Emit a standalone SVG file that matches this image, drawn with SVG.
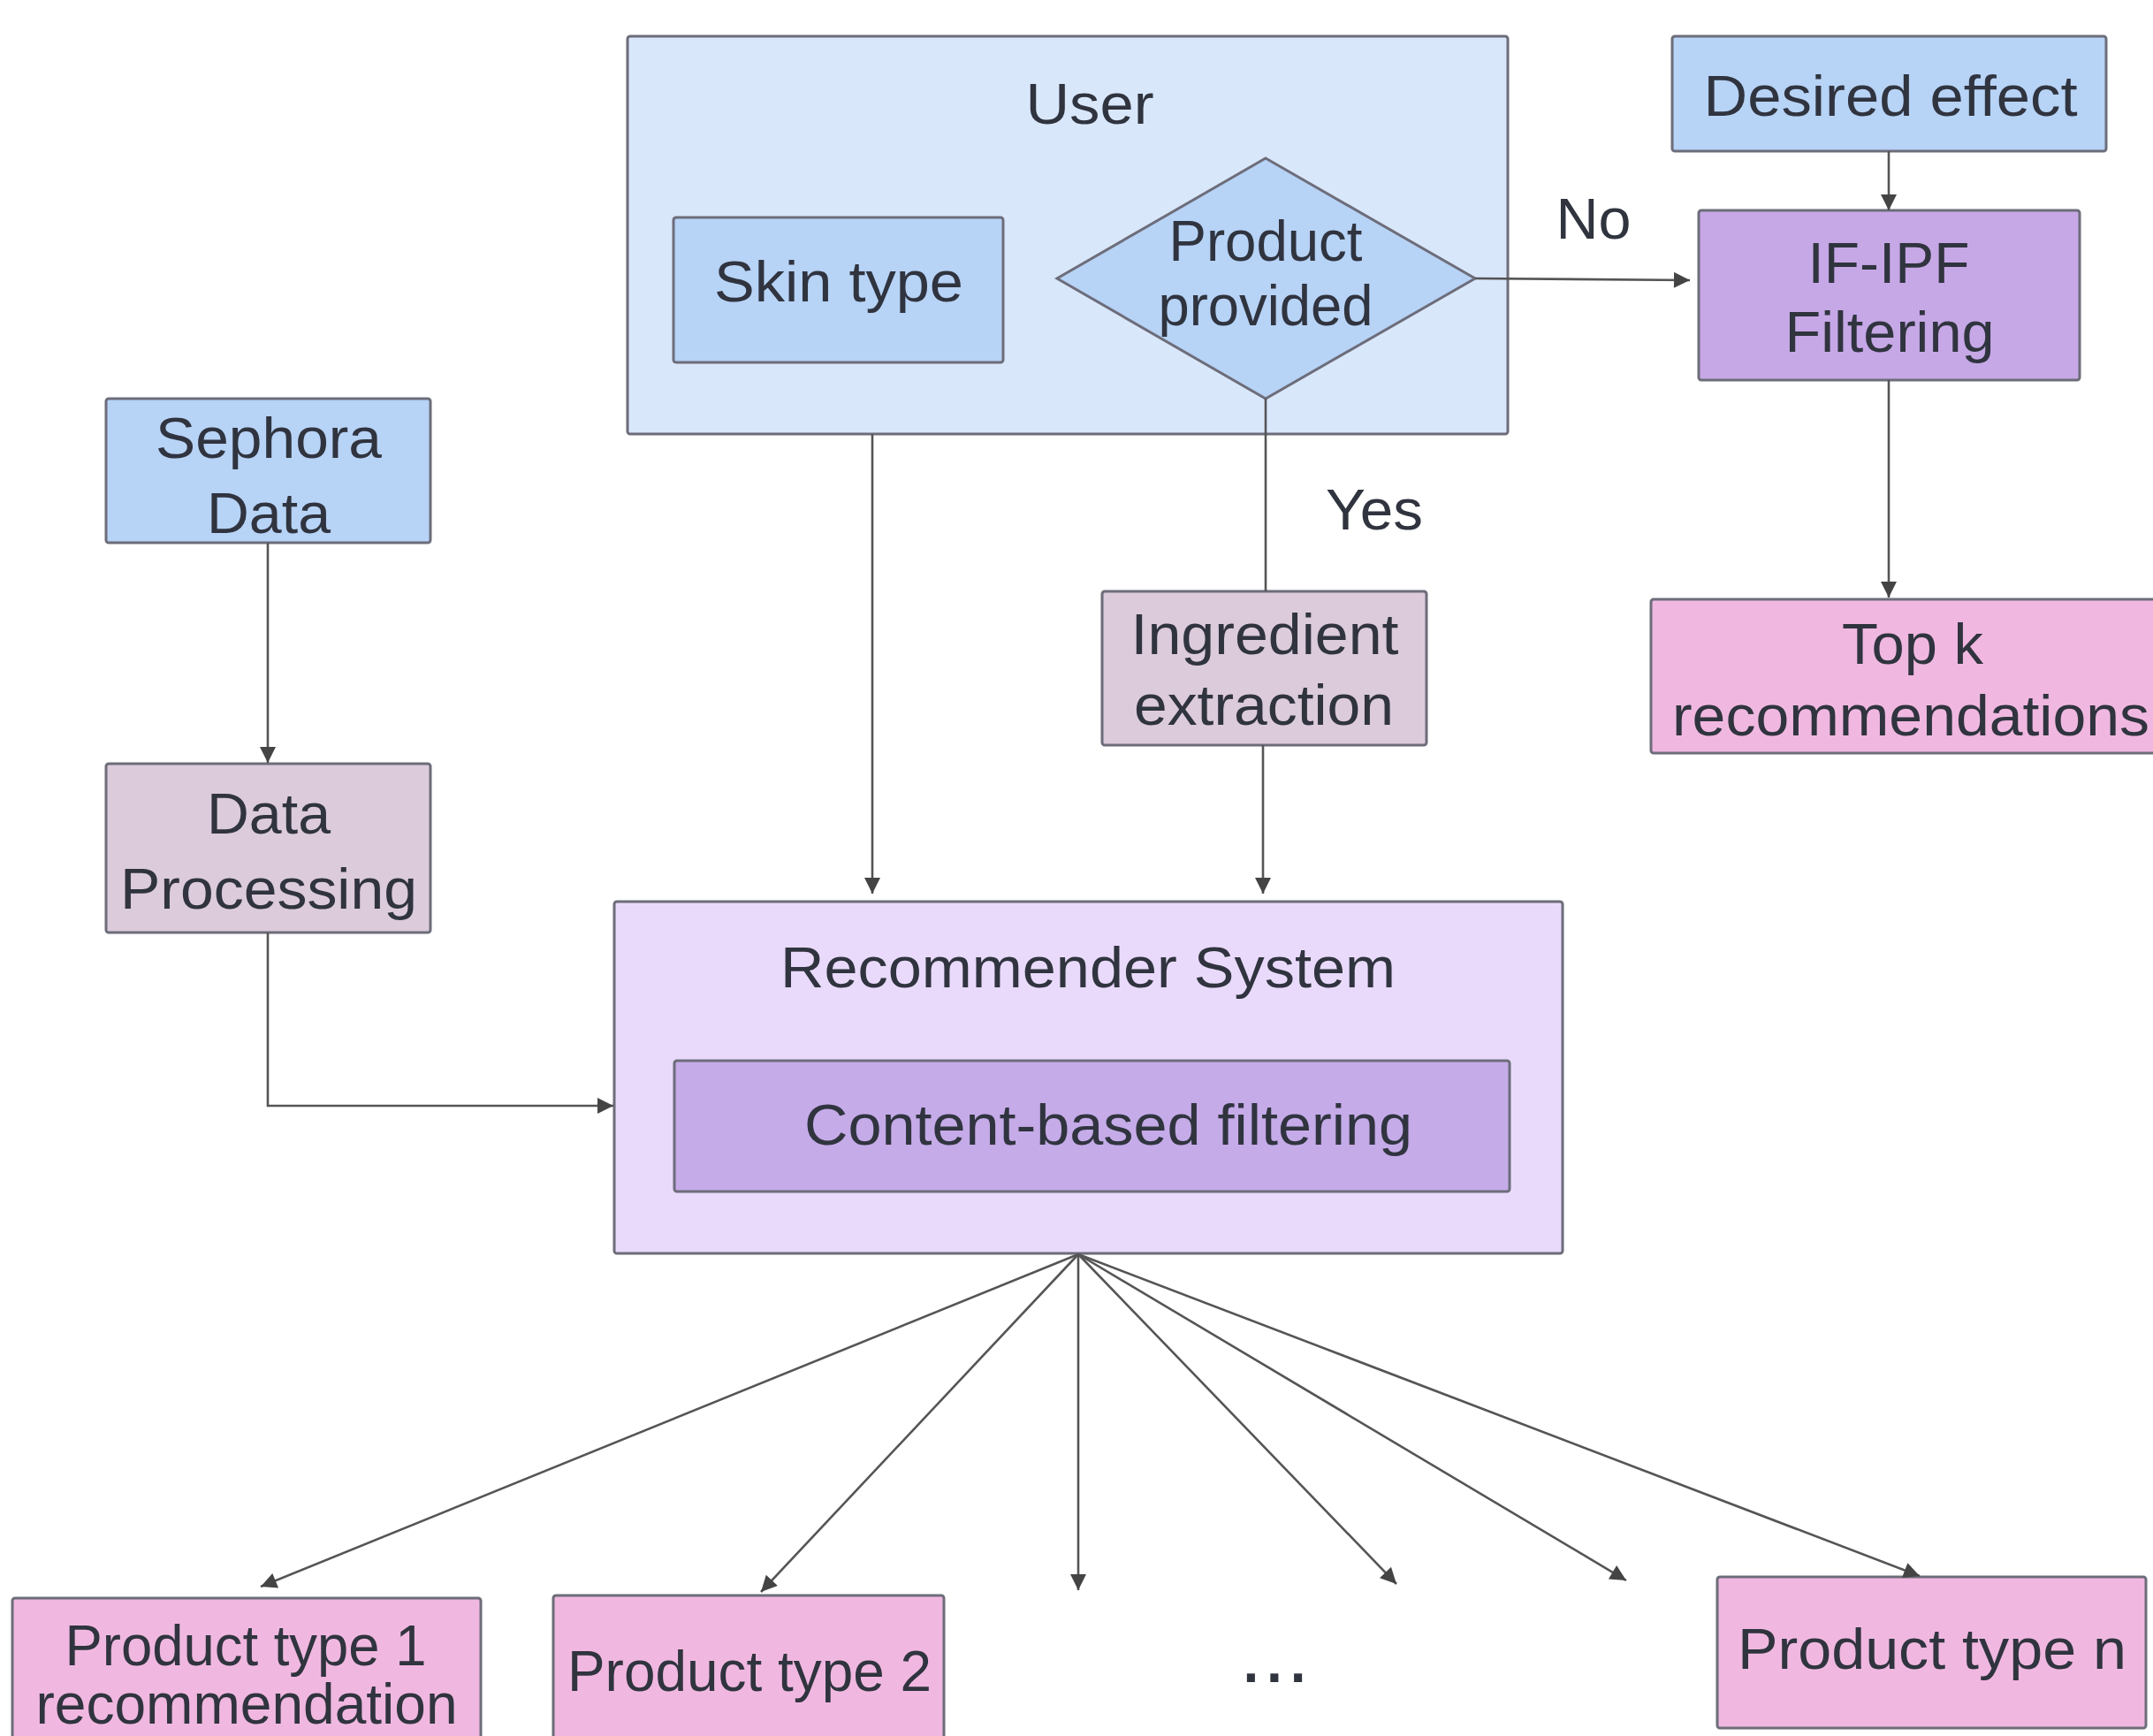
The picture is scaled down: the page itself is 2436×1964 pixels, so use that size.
<svg xmlns="http://www.w3.org/2000/svg" width="2436" height="1964" viewBox="0 0 2436 1964">
<defs>
<marker id="ah" viewBox="0 0 10 10" refX="10" refY="5" markerWidth="25" markerHeight="18" markerUnits="userSpaceOnUse" orient="auto">
<path d="M0,0 L10,5 L0,10 z" fill="#444"/>
</marker>
</defs>
<style>
.box{stroke:#6d6d7a;stroke-width:3}
.t{font-family:"Liberation Sans",Arial,sans-serif;font-size:64px;fill:#30343f;text-anchor:middle}
.c{fill:none;stroke:#555;stroke-width:2.6}
.a{marker-end:url(#ah)}
.blue{fill:#b7d3f6}
.lblue{fill:#d9e7fb}
.mauve{fill:#dccbda}
.purple{fill:#c6a8e6}
.lav{fill:#e9dafb}
.pink{fill:#f0b8e0}
</style>
<rect width="2436" height="1964" fill="#ffffff"/>

<g id="user">
<rect class="box lblue" x="710" y="41" width="996" height="450" rx="3"/>
<text class="t" x="1233" y="140" textLength="145" lengthAdjust="spacingAndGlyphs">User</text>
</g>
<g id="skin-type">
<rect class="box blue" x="762" y="246" width="373" height="164" rx="3"/>
<text class="t" x="949" y="341" textLength="282" lengthAdjust="spacingAndGlyphs">Skin type</text>
</g>
<g id="product-provided">
<polygon class="box blue" points="1432,179 1669,315 1432,451 1196,315" stroke-width="2.5"/>
<text class="t" x="1432" y="295" textLength="219" lengthAdjust="spacingAndGlyphs">Product</text>
<text class="t" x="1432" y="368" textLength="243" lengthAdjust="spacingAndGlyphs">provided</text>
</g>
<g id="desired-effect">
<rect class="box blue" x="1892" y="41" width="491" height="130" rx="3"/>
<text class="t" x="2139" y="131" textLength="423" lengthAdjust="spacingAndGlyphs">Desired effect</text>
</g>
<g id="if-ipf">
<rect class="box purple" x="1922" y="238" width="431" height="192" rx="3"/>
<text class="t" x="2137" y="320" textLength="183" lengthAdjust="spacingAndGlyphs">IF-IPF</text>
<text class="t" x="2138" y="398" textLength="237" lengthAdjust="spacingAndGlyphs">Filtering</text>
</g>
<g id="top-k">
<rect class="box pink" x="1868" y="678" width="600" height="174" rx="3"/>
<text class="t" x="2164" y="751" textLength="160" lengthAdjust="spacingAndGlyphs">Top k</text>
<text class="t" x="2162" y="832" textLength="540" lengthAdjust="spacingAndGlyphs">recommendations</text>
</g>
<g id="sephora-data">
<rect class="box blue" x="120" y="451" width="367" height="163" rx="3"/>
<text class="t" x="304" y="518" textLength="256" lengthAdjust="spacingAndGlyphs">Sephora</text>
<text class="t" x="304" y="603" textLength="140" lengthAdjust="spacingAndGlyphs">Data</text>
</g>
<g id="data-processing">
<rect class="box mauve" x="120" y="864" width="367" height="191" rx="3"/>
<text class="t" x="304" y="943" textLength="140" lengthAdjust="spacingAndGlyphs">Data</text>
<text class="t" x="304" y="1028" textLength="336" lengthAdjust="spacingAndGlyphs">Processing</text>
</g>
<g id="ingredient-extraction">
<rect class="box mauve" x="1247" y="669" width="367" height="174" rx="3"/>
<text class="t" x="1431" y="740" textLength="303" lengthAdjust="spacingAndGlyphs">Ingredient</text>
<text class="t" x="1430" y="820" textLength="294" lengthAdjust="spacingAndGlyphs">extraction</text>
</g>
<g id="recommender-system">
<rect class="box lav" x="695" y="1020" width="1073" height="398" rx="3"/>
<text class="t" x="1231" y="1117" textLength="696" lengthAdjust="spacingAndGlyphs">Recommender System</text>
</g>
<g id="content-based-filtering">
<rect class="box" x="763" y="1200" width="945" height="148" rx="3" fill="#c5abe8"/>
<text class="t" x="1254" y="1295" textLength="688" lengthAdjust="spacingAndGlyphs">Content-based filtering</text>
</g>
<g id="product-type-1">
<rect class="box pink" x="14" y="1808" width="530" height="180" rx="3"/>
<text class="t" x="278" y="1884" textLength="409" lengthAdjust="spacingAndGlyphs">Product type 1</text>
<text class="t" x="279" y="1950" textLength="477" lengthAdjust="spacingAndGlyphs">recommendation</text>
</g>
<g id="product-type-2">
<rect class="box pink" x="626" y="1805" width="442" height="180" rx="3"/>
<text class="t" x="848" y="1913" textLength="412" lengthAdjust="spacingAndGlyphs">Product type 2</text>
</g>
<g id="ellipsis">
<text class="t" x="1442" y="1903" font-weight="bold" font-size="84" textLength="71" lengthAdjust="spacing">...</text>
</g>
<g id="product-type-n">
<rect class="box pink" x="1943" y="1784" width="485" height="171" rx="3"/>
<text class="t" x="2186" y="1888" textLength="440" lengthAdjust="spacingAndGlyphs">Product type n</text>
</g>

<g id="labels">
<text class="t" x="1803" y="270" textLength="85" lengthAdjust="spacingAndGlyphs">No</text>
<text class="t" x="1555" y="599" textLength="110" lengthAdjust="spacingAndGlyphs">Yes</text>
</g>

<g id="connectors">
<line class="c a" x1="987" y1="491" x2="987" y2="1011"/>
<line class="c" x1="1432" y1="451" x2="1432" y2="669"/>
<line class="c a" x1="1429" y1="843" x2="1429" y2="1011"/>
<line class="c a" x1="1669" y1="315" x2="1912" y2="317"/>
<line class="c a" x1="2137" y1="171" x2="2137" y2="238"/>
<line class="c a" x1="2137" y1="430" x2="2137" y2="676"/>
<line class="c a" x1="303" y1="614" x2="303" y2="863"/>
<polyline class="c a" points="303,1055 303,1251 694,1251"/>
<line class="c a" x1="1220" y1="1419" x2="295" y2="1795"/>
<line class="c a" x1="1220" y1="1419" x2="861" y2="1801"/>
<line class="c a" x1="1220" y1="1419" x2="1220" y2="1799"/>
<line class="c a" x1="1220" y1="1419" x2="1580" y2="1792"/>
<line class="c a" x1="1220" y1="1419" x2="1840" y2="1788"/>
<line class="c a" x1="1220" y1="1419" x2="2172" y2="1783"/>
</g>
</svg>
